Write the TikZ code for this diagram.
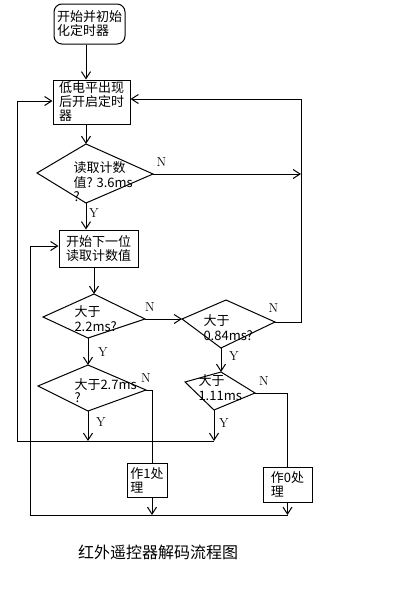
\documentclass[tikz,border=0pt]{standalone}
\usepackage{fontspec}
\newfontfamily\cjk{Noto Sans CJK SC}
\usetikzlibrary{arrows.meta}
\tikzset{
  arr/.style={-{Straight Barb[length=7pt,width=9pt]}},
  box/.style={draw, inner sep=1pt, align=left, font=\cjk\fontsize{13}{14}\selectfont},
  txt/.style={anchor=west, inner sep=0pt, align=left, font=\cjk\fontsize{13}{15}\selectfont},
  yn/.style={inner sep=0pt, font=\fontsize{13}{13}\selectfont},
}

\begin{document}
\begin{tikzpicture}[x=1pt, y=-1pt, line width=1pt]
	%%%%% START %%%%%
	\useasboundingbox (0,0) rectangle (400,600);
	
	% boxes
	\node[box, rounded corners=8pt, minimum width=71pt, minimum height=40pt] (start) at (89.5,24) {开始并初始\\化定时器};
	\node[box, minimum width=77pt, minimum height=44pt] (init) at (91.5,102) {低电平出现\\后开启定时\\器};
	\node[box, minimum width=79pt, minimum height=37pt] (next) at (98.5,248.5) {开始下一位\\读取计数值};
	\node[box, minimum width=40pt, minimum height=34pt] (one) at (147,480) {作1处\\理};
	\node[box, minimum width=49pt, minimum height=35pt] (zero) at (287.5,484.5) {作0处\\理};
	
	% decisions
	\coordinate (d1t) at (86,144);
	\coordinate (d1r) at (153,174);
	\coordinate (d1b) at (86,203);
	\coordinate (d1l) at (37,173);
	\draw (d1t) -- (d1r) -- (d1b) -- (d1l) -- cycle;
	\node[txt] (d1text) at (73,182) {读取计数\\值? 3.6ms\\[-1pt]?};
	
	\coordinate (d2t) at (94,294);
	\coordinate (d2r) at (145,319);
	\coordinate (d2b) at (88,338);
	\coordinate (d2l) at (43,317);
	\draw (d2t) -- (d2r) -- (d2b) -- (d2l) -- cycle;
	\node[txt] (d2text) at (74,318.5) {大于\\2.2ms?};
	
	\coordinate (d3t) at (226,300);
	\coordinate (d3r) at (275,322);
	\coordinate (d3b) at (221,348);
	\coordinate (d3l) at (182,319);
	\draw (d3t) -- (d3r) -- (d3b) -- (d3l) -- cycle;
	\node[txt] (d3text) at (203,327.5) {大于\\0.84ms?};
	
	\coordinate (d4t) at (88,365);
	\coordinate (d4r) at (146,390);
	\coordinate (d4b) at (88,411);
	\coordinate (d4l) at (38,386);
	\draw (d4t) -- (d4r) -- (d4b) -- (d4l) -- cycle;
	\node[txt] (d4text) at (74,391) {大于2.7ms\\[-2pt]?};
	
	\coordinate (d5t) at (221,372);
	\coordinate (d5r) at (255,393);
	\coordinate (d5b) at (214,410);
	\coordinate (d5l) at (185,382);
	\draw (d5t) -- (d5r) -- (d5b) -- (d5l) -- cycle;
	\node[txt] (d5text) at (198,387.5) {大于\\1.11ms};
	
	% main flow
	\draw[arr] (start.south -| d1t) -- (init.north -| d1t);
	\draw[arr] (init.south -| d1t) -- (d1t);
	\draw[arr] (d1b) -- (d1b |- next.north);
	\draw[arr] (next.south -| d2t) -- (d2t);
	\draw[arr] (d2r) -- (d3l);
	\draw[arr] (d2b) -- (d4t);
	\draw[arr] (d3b) -- (d5t);
	
	% right loop
	\coordinate (rtop) at (301,99);
	\draw[arr] (d1r) -- (d1r -| rtop);
	\draw[arr] (d3r) -- (d3r -| rtop) -- (rtop) -- (rtop -| init.east);
	
	% left loops
	\coordinate (ltop) at (17,101);
	\coordinate (lbot) at (17,441);
	\draw[arr] (lbot -| d5b) -- (lbot) -- (ltop) -- (ltop -| init.west);
	\draw[arr] (d4b) -- (d4b |- lbot);
	\draw[arr] (d5b) -- (d5b |- lbot);
	
	\coordinate (mtop) at (30,246);
	\coordinate (mbot) at (30,515);
	\draw[arr] (zero.south |- mbot) -- (mbot) -- (mtop) -- (mtop -| next.west);
	\coordinate (c1) at ([xshift=5pt]one.north);
	\draw (d4r) -| (c1);
	\draw[arr] (c1 |- one.south) -- (c1 |- mbot);
	\draw (d5r) -| (zero.north);
	\draw[arr] (zero.south) -- (zero.south |- mbot);
	
	% N / Y
	\node[yn] (n1) at (161.5,162.5) {N};
	\node[yn] (y1) at (94,213) {Y};
	\node[yn] (n2) at (150,307) {N};
	\node[yn] (y2) at (103,352) {Y};
	\node[yn] (n3) at (273.5,308) {N};
	\node[yn] (y3) at (234,356) {Y};
	\node[yn] (n4) at (146,378) {N};
	\node[yn] (y4) at (101,422) {Y};
	\node[yn] (n5) at (264,381) {N};
	\node[yn] (y5) at (224,423) {Y};
	
	\node[font=\cjk\fontsize{16}{16}\selectfont] (title) at (158,552) {红外遥控器解码流程图};
	%%%%% END %%%%%
\end{tikzpicture}
\end{document}
